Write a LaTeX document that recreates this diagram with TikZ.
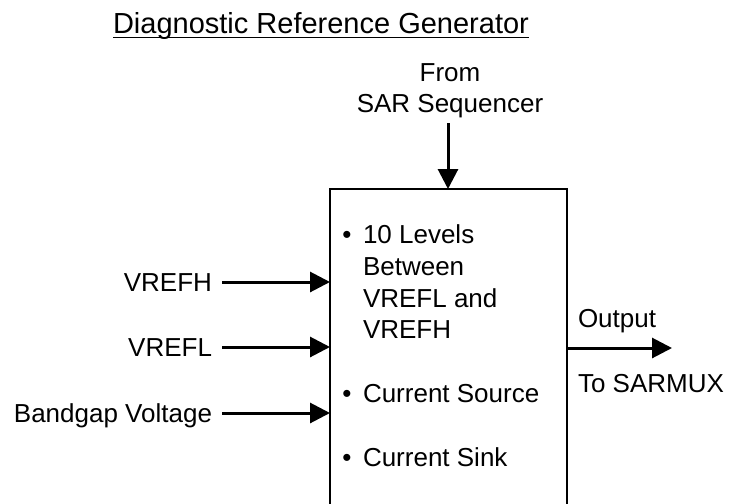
\documentclass[tikz,border=0pt]{standalone}
\usepackage{fontspec}
\setmainfont{Liberation Sans}
\usetikzlibrary{arrows.meta}
\tikzset{
  lbl/.style={inner sep=0pt, outer sep=0pt, font=\fontsize{26}{31}\selectfont},
  ttl/.style={inner sep=0pt, outer sep=0pt, font=\fontsize{29}{34}\selectfont},
  arr/.style={line width=3pt, -{Triangle[length=20pt,width=20pt]}},
  blk/.style={draw, line width=2pt, inner sep=0pt, outer sep=0pt}
}
\begin{document}
\begin{tikzpicture}[x=1pt,y=-1pt]
\useasboundingbox (0,0) rectangle (732,504);
\clip (0,0) rectangle (732,504);
% title
\node[ttl, anchor=base] (title) at (321,33) {Diagnostic Reference Generator};
\draw[line width=1.6pt] ([yshift=-4.5pt]title.base west) -- ([yshift=-4.5pt]title.base east);
% main block
\node[blk, anchor=north west, minimum width=237pt, minimum height=345pt] (box) at (330,189) {};
% top input
\node[lbl, anchor=base] (from1) at (450,81) {From};
\node[lbl, anchor=base] (from2) at (450,112) {SAR Sequencer};
\coordinate (t1) at (448,123);
\draw[arr] (t1) -- (t1 |- box.north);
% left inputs
\node[lbl, anchor=base east] (vh) at (212,291) {VREFH};
\node[lbl, anchor=base east] (vl) at (212,356) {VREFL};
\node[lbl, anchor=base east] (bg) at (212,422) {Bandgap Voltage};
\coordinate (a1) at (222,282);
\coordinate (a2) at (222,347);
\coordinate (a3) at (222,413);
\draw[arr] (a1) -- (a1 -| box.west);
\draw[arr] (a2) -- (a2 -| box.west);
\draw[arr] (a3) -- (a3 -| box.west);
% block text
\node[lbl, anchor=base] (b1) at (347,243) {\textbullet};
\node[lbl, anchor=base west] (l1) at (363,243) {10 Levels};
\node[lbl, anchor=base west] (l2) at (363,275) {Between};
\node[lbl, anchor=base west] (l3) at (363,307) {VREFL and};
\node[lbl, anchor=base west] (l4) at (363,338) {VREFH};
\node[lbl, anchor=base] (b2) at (347,402) {\textbullet};
\node[lbl, anchor=base west] (l5) at (363,402) {Current Source};
\node[lbl, anchor=base] (b3) at (347,466) {\textbullet};
\node[lbl, anchor=base west] (l6) at (363,466) {Current Sink};
% output
\coordinate (o1) at (672,348);
\draw[arr] (box.east |- o1) -- (o1);
\node[lbl, anchor=base west] (out) at (578,327) {Output};
\node[lbl, anchor=base west] (to) at (578,392) {To SARMUX};
\end{tikzpicture}
\end{document}
